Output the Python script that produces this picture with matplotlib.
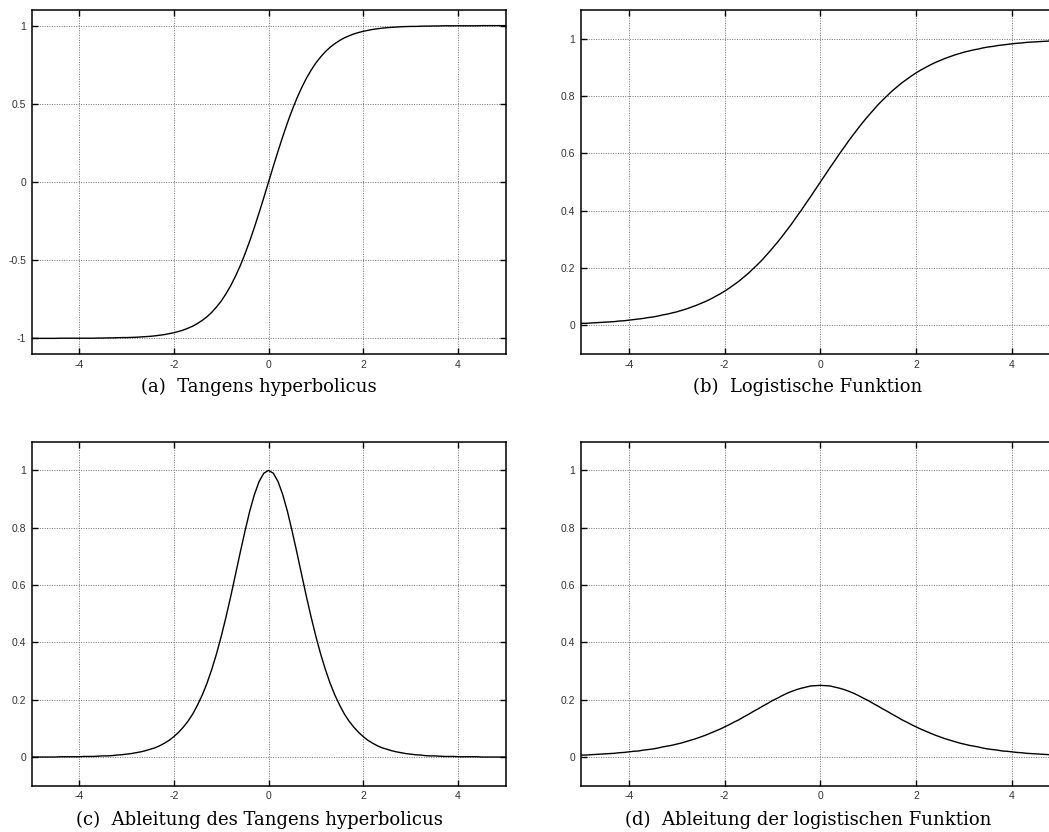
import matplotlib
matplotlib.use("Agg")
import matplotlib.pyplot as plt

# sample grid along the x axis, -5 .. 5 in steps of 0.1
x_vals = [i / 10 for i in range(-50, 51)]

# (a) tanh
tanh_vals = [
    -1.000, -1.000, -1.000, -1.000, -1.000, -1.000, -0.999, -0.999, -0.999, -0.999,
    -0.999, -0.999, -0.999, -0.999, -0.998, -0.998, -0.997, -0.997, -0.996, -0.995,
    -0.995, -0.994, -0.993, -0.991, -0.989, -0.987, -0.984, -0.980, -0.976, -0.970,
    -0.964, -0.956, -0.947, -0.935, -0.922, -0.905, -0.885, -0.862, -0.834, -0.800,
    -0.762, -0.716, -0.664, -0.604, -0.537, -0.462, -0.380, -0.291, -0.197, -0.100,
    0.000,
    0.100, 0.197, 0.291, 0.380, 0.462, 0.537, 0.604, 0.664, 0.716, 0.762,
    0.800, 0.834, 0.862, 0.885, 0.905, 0.922, 0.935, 0.947, 0.956, 0.964,
    0.970, 0.976, 0.980, 0.984, 0.987, 0.989, 0.991, 0.993, 0.994, 0.995,
    0.995, 0.996, 0.997, 0.997, 0.998, 0.998, 0.999, 0.999, 0.999, 0.999,
    0.999, 0.999, 0.999, 0.999, 1.000, 1.000, 1.000, 1.000, 1.000, 1.000]

# (b) logistic function
logistic_vals = [
    0.007, 0.007, 0.008, 0.009, 0.010, 0.011, 0.012, 0.013, 0.015, 0.016,
    0.018, 0.020, 0.022, 0.024, 0.027, 0.029, 0.032, 0.036, 0.039, 0.043,
    0.047, 0.052, 0.057, 0.063, 0.069, 0.076, 0.083, 0.091, 0.100, 0.109,
    0.119, 0.130, 0.142, 0.154, 0.168, 0.182, 0.198, 0.214, 0.231, 0.250,
    0.269, 0.289, 0.310, 0.332, 0.354, 0.378, 0.401, 0.426, 0.450, 0.475,
    0.500,
    0.525, 0.550, 0.574, 0.599, 0.622, 0.646, 0.668, 0.690, 0.711, 0.731,
    0.750, 0.769, 0.786, 0.802, 0.818, 0.832, 0.846, 0.858, 0.870, 0.881,
    0.891, 0.900, 0.909, 0.917, 0.924, 0.931, 0.937, 0.943, 0.948, 0.953,
    0.957, 0.961, 0.964, 0.968, 0.971, 0.973, 0.976, 0.978, 0.980, 0.982,
    0.984, 0.985, 0.987, 0.988, 0.989, 0.990, 0.991, 0.992, 0.993, 0.993]

# (c) derivative of tanh
dtanh_vals = [
    0.000, 0.000, 0.000, 0.000, 0.000, 0.000, 0.001, 0.001, 0.001, 0.001,
    0.001, 0.002, 0.002, 0.002, 0.003, 0.004, 0.004, 0.005, 0.007, 0.008,
    0.010, 0.012, 0.015, 0.018, 0.022, 0.027, 0.032, 0.039, 0.048, 0.058,
    0.071, 0.086, 0.104, 0.125, 0.150, 0.181, 0.216, 0.257, 0.305, 0.359,
    0.420, 0.487, 0.559, 0.635, 0.712, 0.786, 0.856, 0.915, 0.961, 0.990,
    1.000,
    0.990, 0.961, 0.915, 0.856, 0.786, 0.712, 0.635, 0.559, 0.487, 0.420,
    0.359, 0.305, 0.257, 0.216, 0.181, 0.150, 0.125, 0.104, 0.086, 0.071,
    0.058, 0.048, 0.039, 0.032, 0.027, 0.022, 0.018, 0.015, 0.012, 0.010,
    0.008, 0.007, 0.005, 0.004, 0.004, 0.003, 0.002, 0.002, 0.002, 0.001,
    0.001, 0.001, 0.001, 0.001, 0.000, 0.000, 0.000, 0.000, 0.000, 0.000]

# (d) derivative of the logistic function
dlogistic_vals = [
    0.007, 0.007, 0.008, 0.009, 0.010, 0.011, 0.012, 0.013, 0.015, 0.016,
    0.018, 0.020, 0.021, 0.024, 0.026, 0.028, 0.031, 0.035, 0.038, 0.041,
    0.045, 0.049, 0.054, 0.059, 0.064, 0.070, 0.076, 0.083, 0.090, 0.097,
    0.105, 0.113, 0.122, 0.130, 0.140, 0.149, 0.159, 0.168, 0.178, 0.187,
    0.197, 0.205, 0.214, 0.222, 0.229, 0.235, 0.240, 0.244, 0.248, 0.249,
    0.250,
    0.249, 0.248, 0.244, 0.240, 0.235, 0.229, 0.222, 0.214, 0.205, 0.197,
    0.187, 0.178, 0.168, 0.159, 0.149, 0.140, 0.130, 0.122, 0.113, 0.105,
    0.097, 0.090, 0.083, 0.076, 0.070, 0.064, 0.059, 0.054, 0.049, 0.045,
    0.041, 0.038, 0.035, 0.031, 0.028, 0.026, 0.024, 0.021, 0.020, 0.018,
    0.016, 0.015, 0.013, 0.012, 0.011, 0.010, 0.009, 0.008, 0.007, 0.007]

captions = ["(a)  Tangens hyperbolicus",
            "(b)  Logistische Funktion",
            "(c)  Ableitung des Tangens hyperbolicus",
            "(d)  Ableitung der logistischen Funktion"]

x_ticks = [-4, -2, 0, 2, 4]
x_labels = ["-4", "-2", "0", "2", "4"]
tanh_yticks = [-1, -0.5, 0, 0.5, 1]
tanh_ylabels = ["-1", "-0.5", "0", "0.5", "1"]
unit_yticks = [0, 0.2, 0.4, 0.6, 0.8, 1]
unit_ylabels = ["0", "0.2", "0.4", "0.6", "0.8", "1"]

W, H = 1049, 832


def draw_panel(ax, ys, yticks, ylabels, ylim):
    ax.plot(x_vals, ys, color="black", lw=1.0)
    ax.set_xlim(-5, 5)
    ax.set_ylim(*ylim)
    ax.set_xticks(x_ticks)
    ax.set_xticklabels(x_labels)
    ax.set_yticks(yticks)
    ax.set_yticklabels(ylabels)
    ax.tick_params(direction="in", top=True, right=True, length=4, width=1.0,
                   labelsize=7.5, labelcolor="#333333", pad=4)
    for lab in ax.get_xticklabels() + ax.get_yticklabels():
        lab.set_family("Liberation Sans")
    ax.grid(True, color="#707070", linestyle=(0, (1, 1.5)), linewidth=0.7)
    for sp in ax.spines.values():
        sp.set_linewidth(1.1)


def main():
    fig = plt.figure(figsize=(W / 100, H / 100), dpi=100)

    # axes rectangles in pixels: left, top, right, bottom
    boxes = [(31.6, 10, 505.5, 354),
             (580.8, 10, 1060, 354),
             (31.6, 441.7, 505.5, 785.7),
             (580.8, 441.7, 1060, 785.7)]
    series = [tanh_vals, logistic_vals, dtanh_vals, dlogistic_vals]
    cap_pos = [(259, 392), (808, 392), (259, 825), (808, 825)]

    for i, (l, t, r, b) in enumerate(boxes):
        ax = fig.add_axes([l / W, 1 - b / H, (r - l) / W, (b - t) / H])
        if i == 0:
            draw_panel(ax, series[i], tanh_yticks, tanh_ylabels, (-1.1, 1.1))
        else:
            draw_panel(ax, series[i], unit_yticks, unit_ylabels, (-0.1, 1.1))
        cx, cy = cap_pos[i]
        fig.text(cx / W, 1 - cy / H, captions[i], ha="center", va="baseline",
                 fontsize=13, family="DejaVu Serif")

    fig.savefig("out.png", dpi=100)


if __name__ == "__main__":
    main()
